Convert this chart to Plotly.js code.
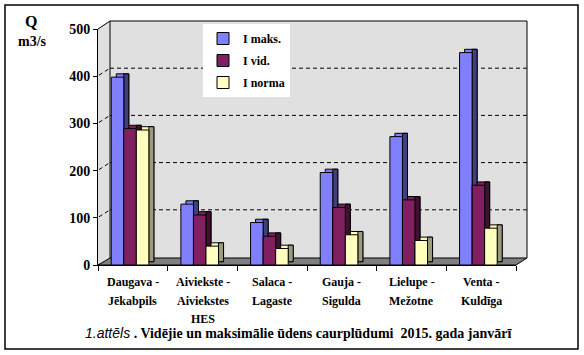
<!DOCTYPE html>
<html>
<head>
<meta charset="utf-8">
<script src="https://cdn.plot.ly/plotly-3.0.1.min.js"></script>
<style>html,body{margin:0;padding:0;background:#fff;}#chart{width:584px;height:355px;}</style>
</head>
<body>
<div id="chart"></div>
<script>
// ---- data ----
const categories = ["Daugava -<br>Jēkabpils", "Aiviekste -<br>Aiviekstes<br>HES", "Salaca -<br>Lagaste", "Gauja -<br>Sigulda", "Lielupe -<br>Mežotne", "Venta -<br>Kuldīga"];
const seriesNames = ["I maks.", "I vid.", "I norma"];
const imaks = [398, 129, 90, 196, 272, 450];
const ivid = [289, 106, 61, 122, 138, 169];
const inorma = [286, 40, 35, 64, 52, 78];
const yTickVals = [0, 100, 200, 300, 400, 500];
const gridVals = [100, 200, 300, 400];

// ---- styles ----
const FONT = "'Liberation Serif', 'Times New Roman', serif";
const frontColors = ["#8080FF", "#802060", "#FFFFC0"];
const sideColors = ["#40407F", "#401030", "#9C9C7C"];
const offsets = [-0.31, -0.13, 0.05];
const BW = 0.18, DX = 0.072, DY = 7;

// pixel -> paper helpers (plot area 98..527 x 21..265)
const PX = x => (x - 98) / 429;
const PY = y => (265 - y) / 244;
const PXV = v => 265 - v * 236 / 500;

const seriesVals = [imaks, ivid, inorma];
const traces = [];
seriesVals.forEach((vals, i) => {
  const common = {type: "bar", x: categories, width: BW, hoverinfo: "skip", legendgroup: "g" + i};
  traces.push(Object.assign({}, common, {y: vals, base: DY, offset: offsets[i] + DX, showlegend: false,
    marker: {color: frontColors[i], line: {color: "#000", width: 1}}}));
  traces.push(Object.assign({}, common, {y: vals, base: DY, offset: offsets[i] + BW, width: DX, showlegend: false,
    marker: {color: sideColors[i], line: {color: "#000", width: 1}}}));
  traces.push(Object.assign({}, common, {y: vals, offset: offsets[i], name: seriesNames[i], showlegend: true,
    marker: {color: frontColors[i], line: {color: "#000", width: 1}}}));
});

const shapes = [];
shapes.push({type: "path", xref: "paper", yref: "paper", layer: "below",
  path: `M ${PX(98)},${PY(29)} L ${PX(110)},${PY(21)} L ${PX(527)},${PY(21)} L ${PX(527)},${PY(258)} L ${PX(516)},${PY(265)} L ${PX(98)},${PY(265)} Z`,
  fillcolor: "#E0E0E0", line: {width: 0}});
shapes.push({type: "path", xref: "paper", yref: "paper", layer: "below",
  path: `M ${PX(98)},${PY(265)} L ${PX(110)},${PY(258)} L ${PX(527)},${PY(258)} L ${PX(516)},${PY(265)} Z`,
  fillcolor: "#808080", line: {color: "#000", width: 1}});
[[110,21,527,21],[527,21,527,258],[110,21,110,258],[98,29,110,21]].forEach(s => {
  shapes.push({type: "line", xref: "paper", yref: "paper", layer: "below",
    x0: PX(s[0]), y0: PY(s[1]), x1: PX(s[2]), y1: PY(s[3]), line: {color: "#000", width: 1}});
});
gridVals.forEach(v => {
  const yf = PXV(v);
  shapes.push({type: "line", xref: "paper", yref: "paper", layer: "below",
    x0: PX(99), y0: PY(yf - 1), x1: PX(110), y1: PY(yf - 8), line: {color: "#000", width: 1, dash: "4px,3px"}});
  shapes.push({type: "line", xref: "paper", yref: "paper", layer: "below",
    x0: PX(110), y0: PY(yf - 8), x1: PX(527), y1: PY(yf - 8), line: {color: "#000", width: 1, dash: "4px,3px"}});
});
shapes.push({type: "rect", xref: "paper", yref: "paper", x0: PX(5), x1: PX(578), y0: PY(349), y1: PY(5),
  line: {color: "#000", width: 1.5}, fillcolor: "rgba(0,0,0,0)"});

// category labels, one annotation per line (18 px line pitch as in the reference)
const annotations = [];
categories.forEach((c, i) => {
  c.split("<br>").forEach((line, j) => {
    annotations.push({xref: "x", yref: "paper", x: c, y: PY(282 + 18.5 * j), text: line, showarrow: false,
      xanchor: "center", yanchor: "middle", font: {family: FONT, size: 12, weight: "bold"}});
  });
});
annotations.push(
  {xref: "paper", yref: "paper", x: PX(31), y: PY(21), text: "Q", showarrow: false,
    font: {family: FONT, size: 16, weight: "bold"}, xanchor: "center", yanchor: "middle"},
  {xref: "paper", yref: "paper", x: PX(32), y: PY(41), text: "m3/s", showarrow: false,
    font: {family: FONT, size: 14, weight: "bold"}, xanchor: "center", yanchor: "middle"},
  {xref: "paper", yref: "paper", x: PX(298), y: PY(333), showarrow: false, xanchor: "center", yanchor: "middle",
    text: "<span style=\"font-family:'Liberation Sans', Arial, sans-serif\"><i>1.attēls</i></span> <b>. Vidējie un maksimālie ūdens caurplūdumi&nbsp; 2015. gada janvārī</b>",
    font: {family: FONT, size: 14, weight: "normal"}}
);

const layout = {
  width: 584, height: 355,
  margin: {l: 98, r: 57, t: 21, b: 90},
  paper_bgcolor: "#fff", plot_bgcolor: "rgba(0,0,0,0)",
  font: {family: FONT, size: 12, color: "#000", weight: "bold"},
  barmode: "overlay",
  showlegend: true,
  legend: {x: PX(203), y: PY(24), xanchor: "left", yanchor: "top", bgcolor: "#fff", borderwidth: 0,
    traceorder: "grouped", tracegroupgap: 3,
    font: {family: FONT, size: 12, weight: "bold"}},
  xaxis: {domain: [0, 418/429], anchor: "y", type: "category", range: [-0.5, 5.5],
    showline: true, linecolor: "#000", linewidth: 1, ticks: "outside", tickson: "boundaries", ticklen: 5,
    tickcolor: "#000", showgrid: false, showticklabels: false},
  yaxis: {domain: [0, 236/244], anchor: "x", range: [0, 500], tickvals: yTickVals,
    showline: true, linecolor: "#000", linewidth: 1, ticks: "outside", ticklen: 4, tickcolor: "#000",
    showgrid: false, zeroline: false, tickfont: {family: FONT, size: 14, weight: "bold"}},
  shapes: shapes,
  annotations: annotations
};

Plotly.newPlot("chart", traces, layout, {staticPlot: true, displayModeBar: false});
</script>
</body>
</html>
